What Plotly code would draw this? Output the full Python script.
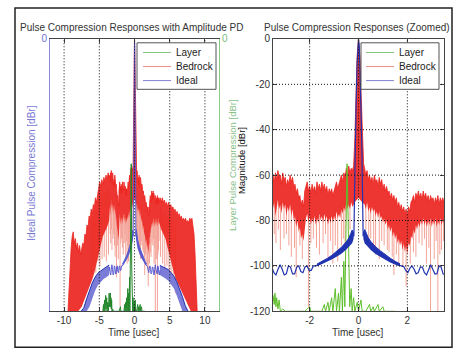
import plotly.graph_objects as go

# ---------------- data (time in usec, level in dBr) ----------------
RED_UP_X = [-9.45,-9.3,-9.15,-9.0,-8.85,-8.7,-8.55,-8.4,-8.25,-8.1,-7.95,-7.8,-7.65,-7.5,-7.35,-7.2,-7.05,-6.9,-6.75,-6.6,
            -6.45,-6.3,-6.15,-6.0,-5.85,-5.7,-5.55,-5.4,-5.25,-5.1,-4.95,-4.8,-4.65,-4.5,-4.35,-4.2,-4.05,-3.9,-3.75,-3.6,
            -3.5,-3.45,-3.4,-3.35,-3.3,-3.25,-3.2,-3.15,-3.1,-3.05,-3.0,-2.95,-2.9,-2.85,-2.8,-2.75,-2.7,-2.65,-2.6,-2.55,
            -2.5,-2.45,-2.4,-2.35,-2.3,-2.25,-2.2,-2.15,-2.1,-2.05,-2.0,-1.95,-1.9,-1.85,-1.8,-1.75,-1.7,-1.65,-1.6,-1.55,
            -1.5,-1.45,-1.4,-1.35,-1.3,-1.25,-1.2,-1.15,-1.1,-1.05,-1.0,-0.95,-0.9,-0.85,-0.8,-0.75,-0.7,-0.65,-0.6,-0.55,
            -0.5,-0.45,-0.4,-0.35,-0.3,-0.25,
            -0.2,-0.15,-0.11,-0.06,0.0,0.06,0.11,0.16,0.21,
            0.25,0.3,0.35,0.4,0.45,0.5,0.55,0.6,0.65,0.7,0.75,0.8,0.85,0.9,0.95,1.0,1.05,1.1,1.15,1.2,
            1.25,1.3,1.35,1.4,1.45,1.5,1.55,1.6,1.65,1.7,1.75,1.8,1.85,1.9,1.95,2.0,2.05,2.1,2.15,2.2,
            2.25,2.3,2.35,2.4,2.45,2.5,2.55,2.6,2.65,2.7,2.75,2.8,2.85,2.9,2.95,3.0,3.05,3.1,3.15,3.2,
            3.25,3.3,3.35,3.4,3.45,3.5,
            3.65,3.8,3.95,4.1,4.25,4.4,4.55,4.7,4.85,5.0,5.15,5.3,5.45,5.6,5.75,5.9,6.05,6.2,6.35,6.5,6.65,6.8,6.95,7.1,
            7.25,7.4,7.55,7.7,7.85,8.0,8.15,8.3,8.45,8.6,8.75,8.9]
RED_UP_Y = [-120,-108,-97,-92,-87,-85,-90,-88,-92,-90,-94,-91,-95,-92,-90,-91,-86,-87,-82,-83,
            -78,-79,-75,-77,-73,-74,-70,-72,-68,-66,-63,-65,-62,-64,-61,-63,-60,-62,-59,-61,
            -60,-63,-59,-62,-58,-61,-60,-64,-59,-62,-61,-65,-62,-64,-60,-63,-61,-65,-64,-68,
            -66,-70,-69,-73,-71,-74,-67,-65,-63,-67,-65,-68,-64,-67,-65,-68,-63,-66,-64,-67,
            -63,-66,-64,-67,-65,-69,-66,-68,-66,-69,-67,-64,-63,-66,-64,-62,-60,-63,-59,-61,
            -57,-60,-56,-59,-57,-58,
            -56,-44,-25,-8,0,-8,-25,-44,-55,
            -57,-60,-58,-62,-60,-63,-61,-64,-60,-63,-62,-65,-61,-64,-62,-66,-64,-67,-65,-68,
            -67,-70,-68,-71,-69,-72,-70,-74,-72,-75,-73,-76,-74,-77,-75,-78,-74,-76,-72,-71,
            -69,-72,-68,-70,-67,-70,-68,-71,-67,-70,-68,-71,-69,-72,-69,-71,-70,-73,-70,-72,
            -69,-73,-70,-72,-70,-72,
            -70,-72,-70,-72,-71,-73,-72,-74,-72,-74,-73,-75,-74,-76,-75,-77,-76,-78,-77,-79,-78,-80,-79,-80,
            -79,-81,-80,-81,-79,-80,-79,-82,-86,-95,-108,-120]

RED_LO_X = [-9.45,-8.0,-7.5,-7.0,-6.6,-6.3,-6.0,-5.7,-5.4,-5.1,-4.8,-4.5,-4.2,-3.9,-3.6,
            -3.5,-3.45,-3.4,-3.35,-3.3,-3.25,-3.2,-3.15,-3.1,-3.05,-3.0,-2.95,-2.9,-2.85,-2.8,-2.75,-2.7,-2.65,-2.6,-2.55,
            -2.5,-2.45,-2.4,-2.35,-2.3,-2.25,-2.2,-2.15,-2.1,-2.05,-2.0,-1.95,-1.9,-1.85,-1.8,-1.75,-1.7,-1.65,-1.6,-1.55,
            -1.5,-1.45,-1.4,-1.35,-1.3,-1.25,-1.2,-1.15,-1.1,-1.05,-1.0,-0.95,-0.9,-0.85,-0.8,-0.75,-0.7,-0.65,-0.6,-0.55,
            -0.5,-0.45,-0.4,-0.35,-0.3,-0.25,
            -0.15,0.0,0.15,
            0.25,0.3,0.35,0.4,0.45,0.5,0.55,0.6,0.65,0.7,0.75,0.8,0.85,0.9,0.95,1.0,1.05,1.1,1.15,1.2,
            1.25,1.3,1.35,1.4,1.45,1.5,1.55,1.6,1.65,1.7,1.75,1.8,1.85,1.9,1.95,2.0,2.05,2.1,2.15,2.2,
            2.25,2.3,2.35,2.4,2.45,2.5,2.55,2.6,2.65,2.7,2.75,2.8,2.85,2.9,2.95,3.0,3.05,3.1,3.15,3.2,
            3.25,3.3,3.35,3.4,3.45,3.5,
            3.8,4.1,4.4,4.7,5.0,5.3,5.6,5.9,6.2,6.5,6.8,7.1,7.4,7.7,8.0,8.9]
RED_LO_Y = [-120,-120,-118,-114,-111,-109,-106,-103,-99,-96,-92,-87,-85,-83,-80,
            -75,-72,-78,-74,-71,-75,-73,-77,-72,-75,-73,-78,-74,-76,-73,-78,-75,-80,-78,-83,
            -80,-85,-83,-88,-86,-89,-82,-79,-77,-81,-78,-82,-79,-81,-78,-82,-79,-81,-77,-80,
            -78,-81,-77,-80,-78,-82,-79,-81,-78,-81,-78,-80,-76,-79,-77,-79,-75,-77,-74,-76,
            -72,-75,-73,-75,-72,-74,
            -72,-70,-72,
            -73,-75,-72,-76,-74,-77,-74,-76,-75,-78,-76,-79,-76,-79,-78,-81,-79,-82,-80,-84,
            -82,-85,-83,-87,-85,-88,-86,-90,-88,-91,-89,-93,-90,-94,-91,-95,-90,-91,-87,-88,
            -84,-86,-82,-84,-81,-83,-80,-82,-79,-82,-80,-83,-80,-82,-79,-83,-80,-82,-79,-83,
            -80,-82,-79,-82,-80,-81,
            -84,-86,-88,-92,-96,-100,-103,-106,-108,-110,-112,-114,-116,-118,-120,-120]

# deep nulls of the bedrock response (time, start level, null level)
DIP_X   = [-6.1,-5.8,-5.5,-5.2,-4.9,-4.6,-4.3,-4.0,-3.7,
           -3.45,-3.38,-3.28,-3.2,-3.05,-2.95,-2.85,-2.75,-2.62,-2.55,-2.4,-2.3,-2.05,-1.95,-1.85,-1.72,-1.6,
           -1.45,-1.35,-1.25,-1.15,-1.05,-0.95,-0.85,-0.7,-0.62,-0.55,-0.35,
           0.3,0.42,0.5,0.62,0.7,0.85,0.95,1.05,1.18,1.25,1.38,1.45,1.55,1.65,1.82,1.95,2.12,2.25,2.35,
           2.48,2.6,2.7,2.78,2.88,2.95,3.1,3.18,3.25,3.33,3.4,3.48,
           3.7,4.0,4.3,4.6,4.9,5.2,5.5,5.8]
DIP_TOP = [-80,-78,-75,-72,-70,-70,-68,-68,-66,
           -72,-72,-72,-72,-72,-72,-74,-74,-78,-80,-82,-85,-78,-78,-78,-78,-78,
           -78,-78,-78,-78,-78,-76,-76,-74,-74,-72,-72,
           -72,-74,-74,-75,-76,-76,-78,-78,-80,-80,-84,-84,-86,-86,-90,-90,-88,-84,-82,
           -80,-80,-80,-80,-80,-80,-80,-80,-80,-80,-80,-80,
           -74,-76,-76,-78,-78,-80,-80,-82]
DIP_BOT = [-104,-100,-103,-98,-100,-97,-96,-98,-95,
           -86,-90,-84,-93,-88,-86,-91,-96,-92,-105,-91,-97,-118,-90,-88,-92,-95,
           -90,-86,-96,-89,-99,-91,-98,-91,-88,-93,-84,
           -84,-91,-88,-92,-95,-97,-89,-91,-93,-94,-96,-104,-95,-99,-100,-109,-99,-94,-96,
           -90,-91,-88,-99,-92,-120,-97,-89,-120,-95,-93,-89,
           -96,-99,-101,-100,-104,-106,-108,-112]

LAYER_X = [-4.5,-4.4,-4.35,-4.25,-4.2,-4.1,-4.05,-3.95,-3.9,-3.8,-3.7,-3.6,-3.55,-3.5,-3.45,-3.42,-3.38,-3.35,-3.3,
           -3.25,-3.2,-3.1,-3.0,-2.8,-2.5,-2.2,-2.0,-1.95,-1.5,-1.4,-1.35,-1.25,-1.2,-1.1,-1.05,-0.95,-0.9,-0.82,
           -0.78,-0.7,-0.66,-0.6,-0.56,-0.5,-0.47,-0.44,-0.4,-0.36,-0.3,-0.26,-0.2,-0.15,-0.05,0.0,0.1,0.15,0.3,
           0.45,0.5,0.6,0.65,0.8,0.85,1.0,1.05,1.5]
LAYER_Y = [-120,-117,-120,-115,-120,-113,-119,-114,-120,-116,-120,-112,-118,-113,-117,-112,-118,-114,-119,
           -115,-120,-119,-120,-120,-120,-120,-118,-120,-120,-117,-120,-116,-120,-114,-120,-110,-120,-112,
           -120,-105,-120,-98,-118,-75,-55,-70,-100,-118,-110,-120,-114,-120,-116,-120,-115,-120,-120,
           -117,-120,-118,-120,-117,-120,-118,-120,-120]

IDEAL_X = [-3.6,-3.55,-3.465,-3.38,-3.295,-3.21,-3.125,-3.04,-2.955,-2.87,-2.785,-2.7,-2.615,-2.53,-2.445,-2.36,
           -2.275,-2.19,-2.105,-2.02,-1.935,-1.85,-1.75,-1.6,-1.45,-1.3,-1.15,-1.0,-0.85,-0.7,-0.55,-0.45,-0.35,
           -0.28,-0.22,-0.19,-0.17,-0.14,-0.1,-0.06,-0.03,0.0,0.03,0.06,0.1,0.14,0.17,0.19,0.22,0.28,0.35,0.45,
           0.55,0.7,0.85,1.0,1.15,1.3,1.45,1.6,1.75,1.85,1.935,2.02,2.105,2.19,2.275,2.36,2.445,2.53,2.615,2.7,
           2.785,2.87,2.955,3.04,3.125,3.21,3.295,3.38,3.465,3.55,3.6]
IDEAL_Y = [-102,-100.5,-103,-104,-101.5,-99.5,-101.5,-104,-103.5,-100,-100.5,-103.5,-103.5,-100.5,-100,-102.5,
           -103,-100.5,-100,-102,-102,-100,-100,-99.4,-98.6,-97.6,-96.4,-95.2,-94,-92.6,-91,-89.6,-88,
           -86.5,-85,-87,-70,-50,-30,-12,-3,0,-3,-12,-30,-50,-70,-87,-85,-86.5,-88.2,-89.8,
           -91.2,-92.8,-94.2,-95.4,-96.6,-97.8,-98.7,-99.5,-100,-100.3,-102,-103,-101,-100,-101.5,-103.5,-103,-100.5,-100.5,-103,
           -104,-101.5,-99.5,-101.5,-103.5,-103.5,-100,-100.5,-103.5,-104,-102]

# dense near-in sidelobe band of the ideal response
IDEAL_IN_L_X   = [-1.7,-1.5,-1.3,-1.1,-0.9,-0.7,-0.5,-0.4,-0.32,-0.26,-0.2]
IDEAL_IN_L_TOP = [-99.2,-98.1,-96.8,-95.4,-93.6,-91.8,-89.4,-87.8,-85.8,-84.2,-85.5]
IDEAL_IN_L_BOT = [-100.2,-99.3,-98.4,-97.2,-96,-94.6,-92.8,-91.6,-90.6,-90,-88]
IDEAL_IN_R_X   = [0.2,0.26,0.32,0.4,0.5,0.7,0.9,1.1,1.3,1.5,1.7]
IDEAL_IN_R_TOP = [-85.5,-84,-85.6,-87.6,-89.2,-91.6,-93.4,-95.2,-96.6,-98,-99.1]
IDEAL_IN_R_BOT = [-88.2,-90.2,-90.8,-91.8,-93,-94.8,-96.2,-97.3,-98.5,-99.4,-100.3]
# far sidelobe hump of the ideal response
IDEAL_OUT_L_X   = [-7.6,-7.2,-6.8,-6.4,-6.0,-5.6,-5.2,-4.8,-4.4,-4.0,-3.6]
IDEAL_OUT_L_TOP = [-120,-118.5,-114.5,-111,-107.5,-105,-103.2,-102.2,-101.2,-100.4,-99.6]
IDEAL_OUT_L_BOT = [-120,-120,-120,-118,-114,-111,-108.5,-107,-105.8,-105,-104]
IDEAL_OUT_R_X   = [3.6,4.0,4.4,4.8,5.2,5.6,6.0,6.4,6.8,7.2,7.6]
IDEAL_OUT_R_TOP = [-99.8,-100.4,-101,-101.6,-103,-104.6,-107,-110,-113.5,-117.5,-120]
IDEAL_OUT_R_BOT = [-104,-105,-105.6,-106.5,-108,-110,-113,-117,-120,-120,-120]

LEFT_XTICKS = [-10, -5, 0, 5, 10]
RIGHT_XTICKS = [-2, 0, 2]
RIGHT_YTICKS = [0, -20, -40, -60, -80, -100, -120]

TITLE_L = "Pulse Compression Responses with Amplitude PD"
TITLE_R = "Pulse Compression Responses (Zoomed)"
LEGEND = ["Layer", "Bedrock", "Ideal"]

for a, b in [(RED_UP_X, RED_UP_Y), (RED_LO_X, RED_LO_Y), (DIP_X, DIP_TOP), (DIP_X, DIP_BOT),
             (LAYER_X, LAYER_Y), (IDEAL_X, IDEAL_Y)]:
    assert len(a) == len(b), (len(a), len(b))

# ---------------- styling ----------------
W, H = 458, 358
FONT = "Liberation Sans, Arial, sans-serif"
RED = "#ec2520"
SALMON = "#f4a397"
BLUE = "#2233b0"
LAV = "#7b7bd8"
GREEN_D = "#23862a"
GREEN_L = "#5fbf2c"

def px(x): return x / W
def py(y): return 1 - y / H

def tick_text(v): return [str(t) for t in v]

fig = go.Figure()

def band(x, top, bot, color, fill, xa, ya, lw=1):
    fig.add_trace(go.Scatter(x=x, y=bot, mode="lines", line=dict(width=0, color=color),
                             xaxis=xa, yaxis=ya, showlegend=False, hoverinfo="skip"))
    fig.add_trace(go.Scatter(x=x, y=top, mode="lines", line=dict(width=lw, color=color),
                             fill="tonexty", fillcolor=fill, xaxis=xa, yaxis=ya,
                             showlegend=False, hoverinfo="skip"))

def dips(xa, ya):
    xs, ys = [], []
    for x, t, b in zip(DIP_X, DIP_TOP, DIP_BOT):
        xs += [x, x, None]
        ys += [t, b, None]
    fig.add_trace(go.Scatter(x=xs, y=ys, mode="lines", line=dict(width=1, color=SALMON),
                             xaxis=xa, yaxis=ya, showlegend=False, hoverinfo="skip"))

for xa, ya, ya_g, gcol, icol in [("x", "y", "y2", GREEN_D, "#5a5ad0"), ("x2", "y3", "y3", GREEN_L, BLUE)]:
    # Bedrock
    dips(xa, ya)
    fig.add_trace(go.Scatter(x=RED_LO_X, y=RED_LO_Y, mode="lines", line=dict(width=0, color=RED),
                             xaxis=xa, yaxis=ya, showlegend=False, hoverinfo="skip"))
    fig.add_trace(go.Scatter(x=RED_UP_X, y=RED_UP_Y, mode="lines", line=dict(width=0.8, color=RED),
                             fill="tonexty", fillcolor="rgba(236,37,32,0.92)",
                             xaxis=xa, yaxis=ya, showlegend=False, hoverinfo="skip"))
    # Layer
    fig.add_trace(go.Scatter(x=LAYER_X, y=LAYER_Y, mode="lines", line=dict(width=1, color=gcol),
                             xaxis=xa, yaxis=ya_g, showlegend=False, hoverinfo="skip"))
    # Ideal
    band(IDEAL_OUT_L_X, IDEAL_OUT_L_TOP, IDEAL_OUT_L_BOT, BLUE, LAV, xa, ya)
    band(IDEAL_OUT_R_X, IDEAL_OUT_R_TOP, IDEAL_OUT_R_BOT, BLUE, LAV, xa, ya)
    band(IDEAL_IN_L_X, IDEAL_IN_L_TOP, IDEAL_IN_L_BOT, icol, icol, xa, ya)
    band(IDEAL_IN_R_X, IDEAL_IN_R_TOP, IDEAL_IN_R_BOT, icol, icol, xa, ya)
    fig.add_trace(go.Scatter(x=IDEAL_X, y=IDEAL_Y, mode="lines", line=dict(width=1.2 if xa == "x2" else 1, color=icol),
                             xaxis=xa, yaxis=ya, showlegend=False, hoverinfo="skip"))

TXT = "#333333"
tickfont = dict(family=FONT, size=10, color=TXT)
DL = [0.1092, 0.4782]
DR = [0.5961, 0.9694]
DY = [py(316), py(35)]

fig.update_layout(
    width=W, height=H, margin=dict(l=0, r=0, t=0, b=0, pad=0),
    paper_bgcolor="white", plot_bgcolor="white", showlegend=False,
    font=dict(family=FONT, size=10, color=TXT),
    xaxis=dict(domain=DL, range=[-12, 12], anchor="y", tickvals=LEFT_XTICKS, ticktext=tick_text(LEFT_XTICKS),
               ticks="inside", ticklen=4, tickcolor="#444", showline=True, linecolor="#444", linewidth=1,
               mirror="ticks", showgrid=False, zeroline=False, tickfont=tickfont),
    yaxis=dict(domain=DY, range=[-120, 0], anchor="x", tickvals=[0], ticktext=["0"], ticks="inside",
               ticklen=4, tickcolor=LAV, showline=True, linecolor="#8a8ae0", linewidth=1,
               showgrid=False, zeroline=False, tickfont=dict(family=FONT, size=10, color="#7070d0")),
    yaxis2=dict(range=[-120, 0], overlaying="y", side="right", anchor="x", tickvals=[0], ticktext=["0"],
                ticks="inside", ticklen=4, tickcolor="#8cc88c", showline=True, linecolor="#8cc88c",
                linewidth=1, showgrid=False, zeroline=False,
                tickfont=dict(family=FONT, size=10, color="#7cbc7c")),
    xaxis2=dict(domain=DR, range=[-3.5, 3.5], anchor="y3", tickvals=RIGHT_XTICKS, ticktext=tick_text(RIGHT_XTICKS),
                ticks="inside", ticklen=4, tickcolor="#444", showline=True, linecolor="#444", linewidth=1,
                mirror="ticks", showgrid=False, zeroline=False, tickfont=tickfont),
    yaxis3=dict(domain=DY, range=[-120, 0], anchor="x2", tickvals=RIGHT_YTICKS, ticktext=tick_text(RIGHT_YTICKS),
                ticks="inside", ticklen=4, tickcolor="#444", showline=True, linecolor="#444", linewidth=1,
                mirror="ticks", showgrid=False, zeroline=False, tickfont=tickfont),
)

shapes = []
grid = dict(color="#111", width=1, dash="1px,2px")
for t in LEFT_XTICKS:
    shapes.append(dict(type="line", xref="x", yref="y domain", x0=t, x1=t, y0=0, y1=1, line=grid, layer="above"))
for t in RIGHT_XTICKS:
    shapes.append(dict(type="line", xref="x2", yref="y3 domain", x0=t, x1=t, y0=0, y1=1, line=grid, layer="above"))
for t in RIGHT_YTICKS[1:-1]:
    shapes.append(dict(type="line", xref="x2 domain", yref="y3", x0=0, x1=1, y0=t, y1=t, line=grid, layer="above"))

annotations = []
LEG_COLORS = ["#82c482", "#ee8c82", "#8080d2"]
for (bx0, bx1, lx0, lx1, tx) in [(137, 216, 143, 171, 174), (361, 439, 366, 394, 397)]:
    shapes.append(dict(type="rect", xref="paper", yref="paper", x0=px(bx0), x1=px(bx1), y0=py(87), y1=py(39),
                       line=dict(color="#555", width=1), fillcolor="white", layer="above"))
    for i, (name, c) in enumerate(zip(LEGEND, LEG_COLORS)):
        yy = 49 + 14.5 * i
        shapes.append(dict(type="line", xref="paper", yref="paper", x0=px(lx0), x1=px(lx1), y0=py(yy), y1=py(yy),
                           line=dict(color=c, width=1), layer="above"))
        annotations.append(dict(text=name, xref="paper", yref="paper", x=px(tx), y=py(yy), xanchor="left",
                                yanchor="middle", showarrow=False, font=dict(family=FONT, size=10, color="#222")))

# outer frame
shapes.append(dict(type="rect", xref="paper", yref="paper", x0=px(15), x1=px(452), y0=py(353), y1=py(3),
                   line=dict(color="#222", width=1.5), layer="above"))

def ann(text, x, y, color=TXT, size=10, angle=0):
    annotations.append(dict(text=text, xref="paper", yref="paper", x=px(x), y=py(y), xanchor="center",
                            yanchor="middle", showarrow=False, textangle=angle,
                            font=dict(family=FONT, size=size, color=color)))

ann(TITLE_L, 131, 23, size=10)
ann(TITLE_R, 357, 23, size=10)
ann("Time [usec]", 134, 338)
ann("Time [usec]", 358, 338)
ann("Ideal Pulse Compression [dBr]", 32, 174, color="#7878d4", angle=-90)
ann("Layer Pulse Compression [dBr]", 233, 166, color="#88c088", size=9.5, angle=-90)
ann("Magnitude [dBr]", 241, 160, color="#111", size=9.5, angle=-90)

fig.update_layout(shapes=shapes, annotations=annotations)
fig.write_html("out.html")
